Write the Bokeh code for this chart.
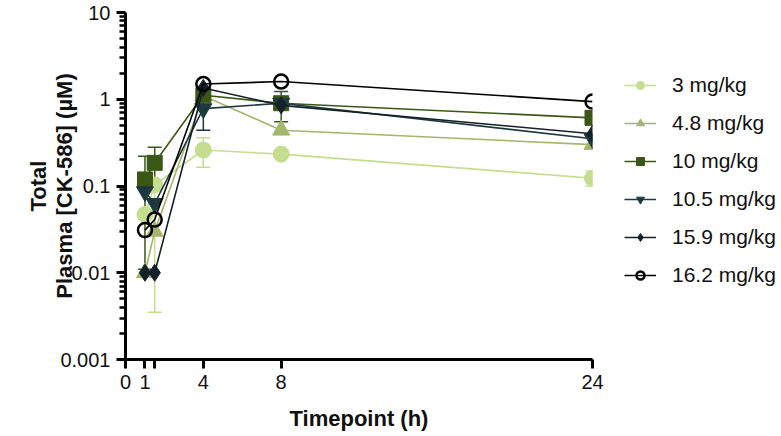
import numpy as np
from bokeh.plotting import figure
from bokeh.models import (Range1d, FixedTicker, Legend, LegendItem, Whisker,
                          ColumnDataSource, TeeHead)
from bokeh.embed import file_html
from bokeh.resources import INLINE

# ---------------- data ----------------
time_h = [1, 1.5, 4, 8, 24]
x_tick_values = [0, 1, 1.5, 4, 8, 24]
x_tick_labels = ["0", "1", "", "4", "8", "24"]
y_tick_values = [0.001, 0.01, 0.1, 1, 10]
y_tick_labels = ["0.001", "0.01", "0.1", "1", "10"]

dose_labels = ["3 mg/kg", "4.8 mg/kg", "10 mg/kg", "10.5 mg/kg", "15.9 mg/kg", "16.2 mg/kg"]

conc_3 = [0.047, 0.103, 0.26, 0.233, 0.123]
conc_4_8 = [0.010, 0.030, 1.10, 0.44, 0.30]
conc_10 = [0.119, 0.185, 1.11, 0.90, 0.61]
conc_10_5 = [0.086, 0.063, 0.78, 0.90, 0.35]
conc_15_9 = [0.010, 0.010, 1.35, 0.85, 0.40]
conc_16_2 = [0.031, 0.041, 1.50, 1.60, 0.94]

# error bars (lower, upper); None = not shown
err_lo_3 = [None, 0.0035, 0.165, None, 0.100]
err_hi_3 = [None, 0.200, 0.360, None, 0.148]
err_lo_10 = [0.011, 0.090, None, 0.55, None]
err_hi_10 = [0.220, 0.280, None, 1.23, None]
err_lo_10_5 = [None, None, 0.44, None, None]
err_hi_10_5 = [None, None, 1.12, None, None]

series = [
    (conc_3, "#c4dd8e", "circle", 16, err_lo_3, err_hi_3, True),
    (conc_4_8, "#a4b56c", "triangle", 17, None, None, True),
    (conc_10, "#3b5716", "square", 15, err_lo_10, err_hi_10, True),
    (conc_10_5, "#1c3a3d", "inverted_triangle", 17, err_lo_10_5, err_hi_10_5, True),
    (conc_15_9, "#14212a", "diamond", 17, None, None, True),
    (conc_16_2, "#000000", "circle", 16, None, None, False),
]

FONT = "Liberation Sans"

p = figure(frame_width=467, frame_height=347, output_backend="svg", toolbar_location=None,
           x_range=Range1d(0, 24), y_range=Range1d(0.001, 10), y_axis_type="log",
           min_border_left=125, min_border_right=10, min_border_top=12, min_border_bottom=75)
p.outline_line_color = None
p.grid.grid_line_color = None
p.background_fill_color = "white"

items = []
for (vals, col, mk, sz, lo, hi, filled), lab in zip(series, dose_labels):
    if lo is not None:
        xs, ls, hs = [], [], []
        for t, a, b in zip(time_h, lo, hi):
            if a is not None:
                xs.append(t); ls.append(a); hs.append(b)
        src = ColumnDataSource(dict(x=xs, lo=ls, hi=hs))
        w = Whisker(base="x", lower="lo", upper="hi", source=src,
                    line_color=col, line_width=1.5,
                    upper_head=TeeHead(size=14, line_color=col, line_width=1.5),
                    lower_head=TeeHead(size=14, line_color=col, line_width=1.5))
        p.add_layout(w)
    src = ColumnDataSource(dict(t=time_h, c=vals))
    ln = p.line("t", "c", source=src, line_color=col, line_width=1.6)
    if filled:
        sc = p.scatter("t", "c", source=src, marker=mk, size=sz,
                       fill_color=col, line_color=col)
    else:
        sc = p.scatter("t", "c", source=src, marker=mk, size=sz - 2,
                       fill_color=None, line_color=col, line_width=2.5)
    items.append(LegendItem(label=lab, renderers=[ln, sc]))

legend = Legend(items=items, location=(32, 72), margin=0, padding=0,
                glyph_width=32, glyph_height=20, label_height=20, spacing=14,
                label_standoff=16, label_text_font=FONT, label_text_font_size="21px",
                label_text_color="#111111", border_line_color=None,
                background_fill_alpha=0)
p.add_layout(legend, "right")

# axes
for ax in (p.xaxis[0], p.yaxis[0]):
    ax.axis_line_width = 3
    ax.axis_line_color = "black"
    ax.major_tick_line_width = 3
    ax.major_tick_out = 9
    ax.major_tick_in = 0
    ax.major_label_text_font = FONT
    ax.major_label_text_font_size = "20px"
    ax.major_label_text_color = "#111111"
    ax.axis_label_text_font = FONT
    ax.axis_label_text_font_style = "bold"
    ax.axis_label_text_font_size = "22px"
    ax.axis_label_text_color = "#111111"

p.xaxis.ticker = FixedTicker(ticks=x_tick_values, minor_ticks=[])
p.xaxis.major_label_overrides = dict(zip(x_tick_values, x_tick_labels))
p.xaxis.axis_label = "Timepoint (h)"
p.xaxis.major_label_standoff = 6
p.xaxis.axis_label_standoff = 14

minor = [m * 10.0 ** e for e in range(-3, 1) for m in range(2, 10)]
p.yaxis.ticker = FixedTicker(ticks=y_tick_values, minor_ticks=minor)
p.yaxis.major_label_overrides = dict(zip(y_tick_values, y_tick_labels))
p.yaxis.minor_tick_line_width = 2.5
p.yaxis.minor_tick_out = 6
p.yaxis.minor_tick_in = 0
p.yaxis.minor_tick_line_color = "black"
p.yaxis.axis_label = "Total\nPlasma [CK-586] (µM)"
p.yaxis.axis_label_text_line_height = 1.05
p.yaxis.major_label_standoff = 6
p.yaxis.axis_label_standoff = -20

open("out.html", "w").write(file_html(p, INLINE))
